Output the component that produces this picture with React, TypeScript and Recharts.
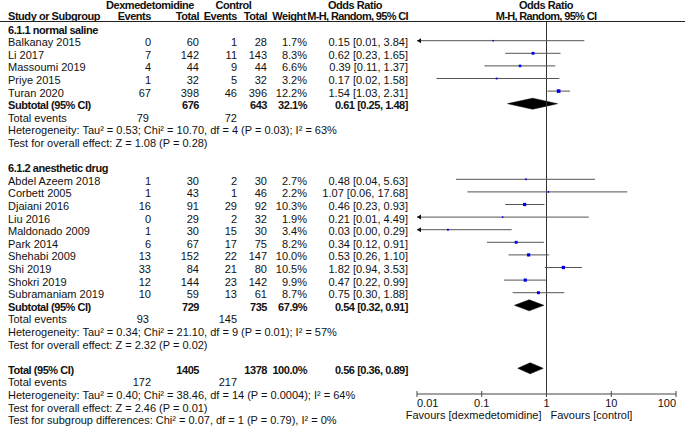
import React from 'react';
import { ComposedChart, XAxis, YAxis, Scatter, Area, ReferenceLine } from 'recharts';

// study level data
const studyNames = [
  'Balkanay 2015', 'Li 2017', 'Massoumi 2019', 'Priye 2015', 'Turan 2020',
  'Abdel Azeem 2018', 'Corbett 2005', 'Djaiani 2016', 'Liu 2016', 'Maldonado 2009',
  'Park 2014', 'Shehabi 2009', 'Shi 2019', 'Shokri 2019', 'Subramaniam 2019',
];
const studyGroup = [0, 0, 0, 0, 0, 1, 1, 1, 1, 1, 1, 1, 1, 1, 1];
const dexEvents = [0, 7, 4, 1, 67, 1, 1, 16, 0, 1, 6, 13, 33, 12, 10];
const dexTotal = [60, 142, 44, 32, 398, 30, 43, 91, 29, 30, 67, 152, 84, 144, 59];
const ctrlEvents = [1, 11, 9, 5, 46, 2, 1, 29, 2, 15, 17, 22, 21, 23, 13];
const ctrlTotal = [28, 143, 44, 32, 396, 30, 46, 92, 32, 30, 75, 147, 80, 142, 61];
const weights = [1.7, 8.3, 6.6, 3.2, 12.2, 2.7, 2.2, 10.3, 1.9, 3.4, 8.2, 10.0, 10.5, 9.9, 8.7];
const oddsRatio = [0.15, 0.62, 0.39, 0.17, 1.54, 0.48, 1.07, 0.46, 0.21, 0.03, 0.34, 0.53, 1.82, 0.47, 0.75];
const ciLower = [0.01, 0.23, 0.11, 0.02, 1.03, 0.04, 0.06, 0.23, 0.01, 0.0, 0.12, 0.26, 0.94, 0.22, 0.3];
const ciUpper = [3.84, 1.65, 1.37, 1.58, 2.31, 5.63, 17.68, 0.93, 4.49, 0.29, 0.91, 1.1, 3.53, 0.99, 1.88];

// subgroup summaries
const groupTitles = ['6.1.1 normal saline', '6.1.2 anesthetic drug'];
const groupDexTotal = [676, 729];
const groupCtrlTotal = [643, 735];
const groupWeight = ['32.1%', '67.9%'];
const groupOR = [0.61, 0.54];
const groupLower = [0.25, 0.32];
const groupUpper = [1.48, 0.91];
const groupDexEvents = [79, 93];
const groupCtrlEvents = [72, 145];
const groupHeterogeneity = [
  'Heterogeneity: Tau² = 0.53; Chi² = 10.70, df = 4 (P = 0.03); I² = 63%',
  'Heterogeneity: Tau² = 0.34; Chi² = 21.10, df = 9 (P = 0.01); I² = 57%',
];
const groupEffect = ['Test for overall effect: Z = 1.08 (P = 0.28)', 'Test for overall effect: Z = 2.32 (P = 0.02)'];

// overall
const totalDexTotal = 1405;
const totalCtrlTotal = 1378;
const totalOR = 0.56;
const totalLower = 0.36;
const totalUpper = 0.89;
const totalDexEvents = 172;
const totalCtrlEvents = 217;
const totalNotes = [
  'Heterogeneity: Tau² = 0.40; Chi² = 38.46, df = 14 (P = 0.0004); I² = 64%',
  'Test for overall effect: Z = 2.46 (P = 0.01)',
  'Test for subgroup differences: Chi² = 0.07, df = 1 (P = 0.79), I² = 0%',
];

const xTicks = [0.01, 0.1, 1, 10, 100];

const W = 685;
const H = 426;
const PLOT_TOP = 21;
const PLOT_BOTTOM = 394;
const PLOT_LEFT = 417;
const PLOT_RIGHT = 676;
const ROW0 = 28.1;
const PITCH = 12.6;
const X_MIN = 0.01;
const DIAMOND_HALF = 0.44;

const FONT = '"Liberation Sans", Arial, sans-serif';
const TXT = '#111';

const fmtCI = (o: number, l: number, u: number) => `${o.toFixed(2)} [${l.toFixed(2)}, ${u.toFixed(2)}]`;

// row layout
let rr = 0;
const studyRow: number[] = [];
const groupRows: { header: number; sub: number; events: number; het: number; eff: number }[] = [];
groupTitles.forEach((_, g) => {
  const header = rr++;
  studyGroup.forEach((sg, i) => {
    if (sg === g) studyRow[i] = rr++;
  });
  const sub = rr++;
  const events = rr++;
  const het = rr++;
  const eff = rr++;
  rr++;
  groupRows.push({ header, sub, events, het, eff });
});
const totalRow = rr;

const rowY = (r: number) => ROW0 + r * PITCH;

const studyPoints = studyNames.map((_, i) => ({ x: oddsRatio[i], y: studyRow[i], w: weights[i] }));
const arrowPoints = studyNames
  .map((_, i) => ({ x: X_MIN, y: studyRow[i], lo: ciLower[i] }))
  .filter((p) => p.lo <= X_MIN);

const diamonds = [
  ...groupOR.map((o, g) => ({ or: o, lo: groupLower[g], hi: groupUpper[g], r: groupRows[g].sub })),
  { or: totalOR, lo: totalLower, hi: totalUpper, r: totalRow },
].map((d) => [
  { x: d.lo, band: [d.r, d.r] },
  { x: d.or, band: [d.r - DIAMOND_HALF, d.r + DIAMOND_HALF] },
  { x: d.hi, band: [d.r, d.r] },
]);

const AxisTick = (props: any) => {
  const { x, y, payload, index } = props;
  const anchor = index === 0 ? 'start' : index === xTicks.length - 1 ? 'end' : 'middle';
  return (
    <g>
      <line x1={x} x2={x} y1={y - 3} y2={y + 3} stroke="#444" />
      <text x={x} y={y + 13} textAnchor={anchor} fontSize={11} fontFamily={FONT} fill={TXT}>
        {String(payload.value)}
      </text>
    </g>
  );
};

const T = (p: {
  x: number;
  r?: number;
  y?: number;
  a?: 'start' | 'middle' | 'end';
  b?: boolean;
  ls?: number;
  children: any;
}) => (
  <text
    x={p.x}
    y={p.y !== undefined ? p.y : rowY(p.r as number) + 5.5}
    textAnchor={p.a || 'start'}
    fontWeight={p.b ? 'bold' : 'normal'}
    letterSpacing={p.ls !== undefined ? p.ls : p.b ? -0.45 : 0}
  >
    {p.children}
  </text>
);

// column anchors
const C_NAME = 8;
const C_DEV = 151;
const C_DTOT = 199;
const C_CEV = 237;
const C_CTOT = 267;
const C_WT = 307;
const C_OR = 408;

const Table = () => (
  <svg width={W} height={H} style={{ position: 'absolute', left: 0, top: 0, pointerEvents: 'none' }}>
    <g fontFamily={FONT} fontSize={11} fill={TXT}>
      <T x={150} y={9.3} a="middle" b>Dexmedetomidine</T>
      <T x={233.5} y={9.3} a="middle" b>Control</T>
      <T x={355} y={9.3} a="middle" b>Odds Ratio</T>
      <T x={546} y={9.3} a="middle" b>Odds Ratio</T>
      <T x={C_NAME} y={19.8} b>Study or Subgroup</T>
      <T x={C_DEV} y={19.8} a="end" b>Events</T>
      <T x={C_DTOT} y={19.8} a="end" b>Total</T>
      <T x={C_CEV} y={19.8} a="end" b>Events</T>
      <T x={C_CTOT} y={19.8} a="end" b>Total</T>
      <T x={C_WT - 1} y={19.8} a="end" b>Weight</T>
      <T x={C_OR} y={19.8} a="end" b ls={-0.65}>M-H, Random, 95% CI</T>
      <T x={546} y={19.8} a="middle" b ls={-0.65}>M-H, Random, 95% CI</T>

      {groupRows.map((g, gi) => (
        <g key={gi}>
          <T x={C_NAME} r={g.header} b>{groupTitles[gi]}</T>
          <T x={C_NAME} r={g.sub} b>Subtotal (95% CI)</T>
          <T x={C_DTOT} r={g.sub} a="end" b>{groupDexTotal[gi]}</T>
          <T x={C_CTOT} r={g.sub} a="end" b>{groupCtrlTotal[gi]}</T>
          <T x={C_WT} r={g.sub} a="end" b>{groupWeight[gi]}</T>
          <T x={C_OR} r={g.sub} a="end" b>{fmtCI(groupOR[gi], groupLower[gi], groupUpper[gi])}</T>
          <T x={C_NAME} r={g.events}>Total events</T>
          <T x={149} r={g.events} a="end">{groupDexEvents[gi]}</T>
          <T x={237} r={g.events} a="end">{groupCtrlEvents[gi]}</T>
          <T x={C_NAME} r={g.het}>{groupHeterogeneity[gi]}</T>
          <T x={C_NAME} r={g.eff}>{groupEffect[gi]}</T>
        </g>
      ))}

      {studyNames.map((n, i) => (
        <g key={n}>
          <T x={C_NAME} r={studyRow[i]}>{n}</T>
          <T x={C_DEV} r={studyRow[i]} a="end">{dexEvents[i]}</T>
          <T x={C_DTOT} r={studyRow[i]} a="end">{dexTotal[i]}</T>
          <T x={C_CEV} r={studyRow[i]} a="end">{ctrlEvents[i]}</T>
          <T x={C_CTOT} r={studyRow[i]} a="end">{ctrlTotal[i]}</T>
          <T x={C_WT} r={studyRow[i]} a="end">{weights[i].toFixed(1)}%</T>
          <T x={C_OR} r={studyRow[i]} a="end">{fmtCI(oddsRatio[i], ciLower[i], ciUpper[i])}</T>
        </g>
      ))}

      <T x={C_NAME} r={totalRow} b>Total (95% CI)</T>
      <T x={C_DTOT} r={totalRow} a="end" b>{totalDexTotal}</T>
      <T x={C_CTOT} r={totalRow} a="end" b>{totalCtrlTotal}</T>
      <T x={C_WT} r={totalRow} a="end" b>100.0%</T>
      <T x={C_OR} r={totalRow} a="end" b>{fmtCI(totalOR, totalLower, totalUpper)}</T>
      <T x={C_NAME} r={totalRow + 1}>Total events</T>
      <T x={151} r={totalRow + 1} a="end">{totalDexEvents}</T>
      <T x={237} r={totalRow + 1} a="end">{totalCtrlEvents}</T>
      {totalNotes.map((t, k) => (
        <T key={k} x={C_NAME} r={totalRow + 2 + k}>{t}</T>
      ))}

      <T x={541.5} y={419} a="end">Favours [dexmedetomidine]</T>
      <T x={550.5} y={419}>Favours [control]</T>
    </g>
    <line x1={0} x2={W} y1={21.5} y2={21.5} stroke="#222" strokeWidth={1} />
  </svg>
);

const App = () => {
  const yMin = (PLOT_TOP - ROW0) / PITCH;
  const yMax = (PLOT_BOTTOM - ROW0) / PITCH;
  return (
    <div style={{ position: 'absolute', left: 0, top: 0, width: W, height: H, background: '#fff' }}>
      <ComposedChart
        width={W}
        height={H}
        margin={{ top: PLOT_TOP, right: W - PLOT_RIGHT, bottom: 0, left: PLOT_LEFT }}
      >
        <XAxis
          type="number"
          dataKey="x"
          scale="log"
          domain={[X_MIN, 100]}
          ticks={xTicks}
          allowDataOverflow
          interval={0}
          height={H - PLOT_BOTTOM}
          tickSize={0}
          tickMargin={0}
          tickLine={false}
          axisLine={{ stroke: '#444' }}
          tick={<AxisTick />}
        />
        <YAxis type="number" dataKey="y" domain={[yMin, yMax]} reversed allowDataOverflow hide />
        <ReferenceLine x={1} stroke="#333" ifOverflow="visible" />
        {studyNames.map((n, i) => (
          <ReferenceLine
            key={n}
            segment={[
              { x: Math.max(ciLower[i], X_MIN), y: studyRow[i] },
              { x: ciUpper[i], y: studyRow[i] },
            ]}
            stroke="#555"
            ifOverflow="visible"
          />
        ))}
        {diamonds.map((d, k) => (
          <Area
            key={k}
            data={d}
            dataKey="band"
            type="linear"
            stroke="#000"
            strokeWidth={0.5}
            fill="#000"
            fillOpacity={1}
            dot={false}
            activeDot={false}
            isAnimationActive={false}
          />
        ))}
        <Scatter
          data={studyPoints}
          isAnimationActive={false}
          shape={(p: any) => {
            const s = 1.2 + p.payload.w * 0.2;
            return <rect x={p.cx - s / 2} y={p.cy - s / 2} width={s} height={s} fill="#0000ee" />;
          }}
        />
        <Scatter
          data={arrowPoints}
          isAnimationActive={false}
          shape={(p: any) => (
            <polygon
              points={`${p.cx},${p.cy} ${p.cx + 4},${p.cy - 2.5} ${p.cx + 4},${p.cy + 2.5}`}
              fill="#111"
            />
          )}
        />
      </ComposedChart>
      <Table />
    </div>
  );
};

export default App;
